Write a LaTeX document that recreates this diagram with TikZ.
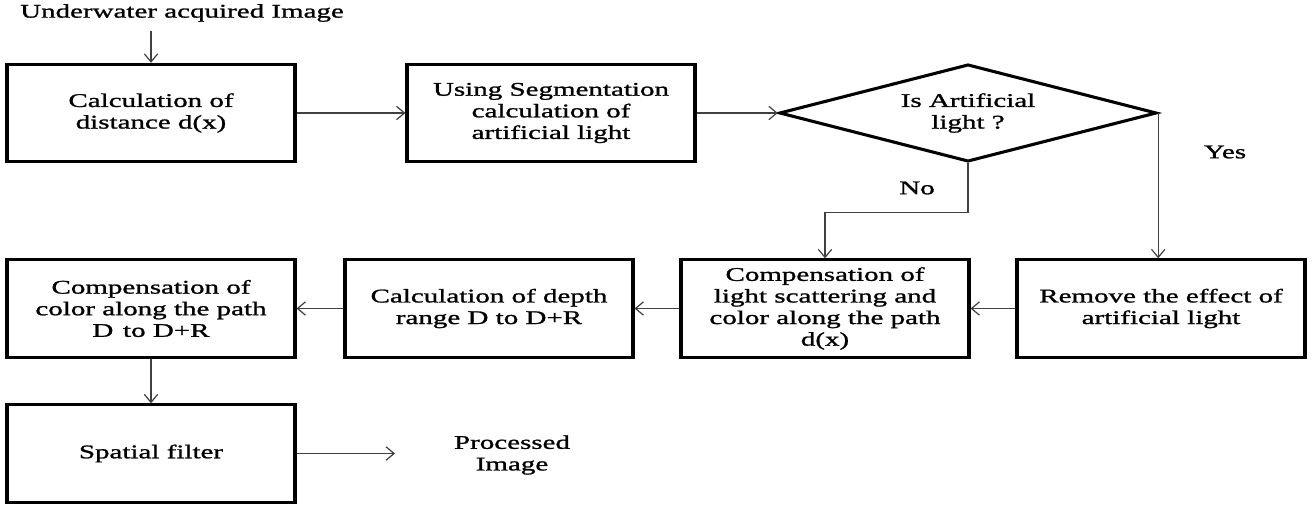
\documentclass[tikz,border=0pt]{standalone}
\usepackage{fontspec}
\setmainfont[FakeStretch=1.5,FakeBold=1.2]{Liberation Serif}
\usetikzlibrary{arrows.meta,shapes.geometric}
\tikzset{
  box/.style={draw=black, line width=2.3pt, minimum width=216pt, minimum height=73pt, inner sep=0pt, align=center, font=\fontsize{14.5}{16.2}\selectfont},
  dec/.style={draw=black, line width=2.3pt, shape=diamond, aspect=3.9, minimum width=283pt, minimum height=73pt, inner sep=0pt, align=center, font=\fontsize{14.5}{16.2}\selectfont},
  lbl/.style={inner sep=1pt, align=center, font=\fontsize{14.5}{16.2}\selectfont},
  arr/.style={draw=black!75, line width=0.9pt, -{Straight Barb[length=6pt,width=10pt]}},
  con/.style={draw=black!75, line width=0.9pt}
}
\begin{document}
\begin{tikzpicture}[x=0.75pt,y=-0.75pt]
\useasboundingbox (0,0) rectangle (1316,506);
\node[lbl] (src) at (182,13) {Underwater acquired Image};
\node[box] (b1) at (151,113) {Calculation of\\distance d(x)};
\node[box] (b2) at (551,113) {Using Segmentation\\calculation of\\artificial light};
\node[dec] (d) at (968,113) {Is Artificial\\light ?};
\node[box] (c1) at (1161,308.5) {Remove the effect of\\artificial light};
\node[box] (c2) at (825,308.5) {Compensation of\\light scattering and\\color along the path\\d(x)};
\node[box] (c3) at (489,308.5) {Calculation of depth\\range D to D+R};
\node[box] (c4) at (151,308.5) {Compensation of\\color along the path\\D\enspace to D+R};
\node[box] (sp) at (151,453.5) {Spatial filter};
\node[lbl] (out) at (512,455) {Processed\\Image};
\node[lbl] (yes) at (1225,152) {Yes};
\node[lbl] (no) at (917,188) {No};
\coordinate (pe) at (395,453.5);
\draw[arr] (b1.north |- 0,31) -- (b1.north);
\draw[arr] (b1.east) -- (b2.west);
\draw[arr] (b2.east) -- (d.west);
\draw[arr] (d.east) -- (d.east |- c1.north);
\draw[arr] (d.south) -- ++(0,49) -| (c2.north);
\draw[arr] (c1.west) -- (c2.east);
\draw[arr] (c2.west) -- (c3.east);
\draw[arr] (c3.west) -- (c4.east);
\draw[arr] (c4.south) -- (sp.north);
\draw[arr] (sp.east) -- (pe);
\end{tikzpicture}
\end{document}
